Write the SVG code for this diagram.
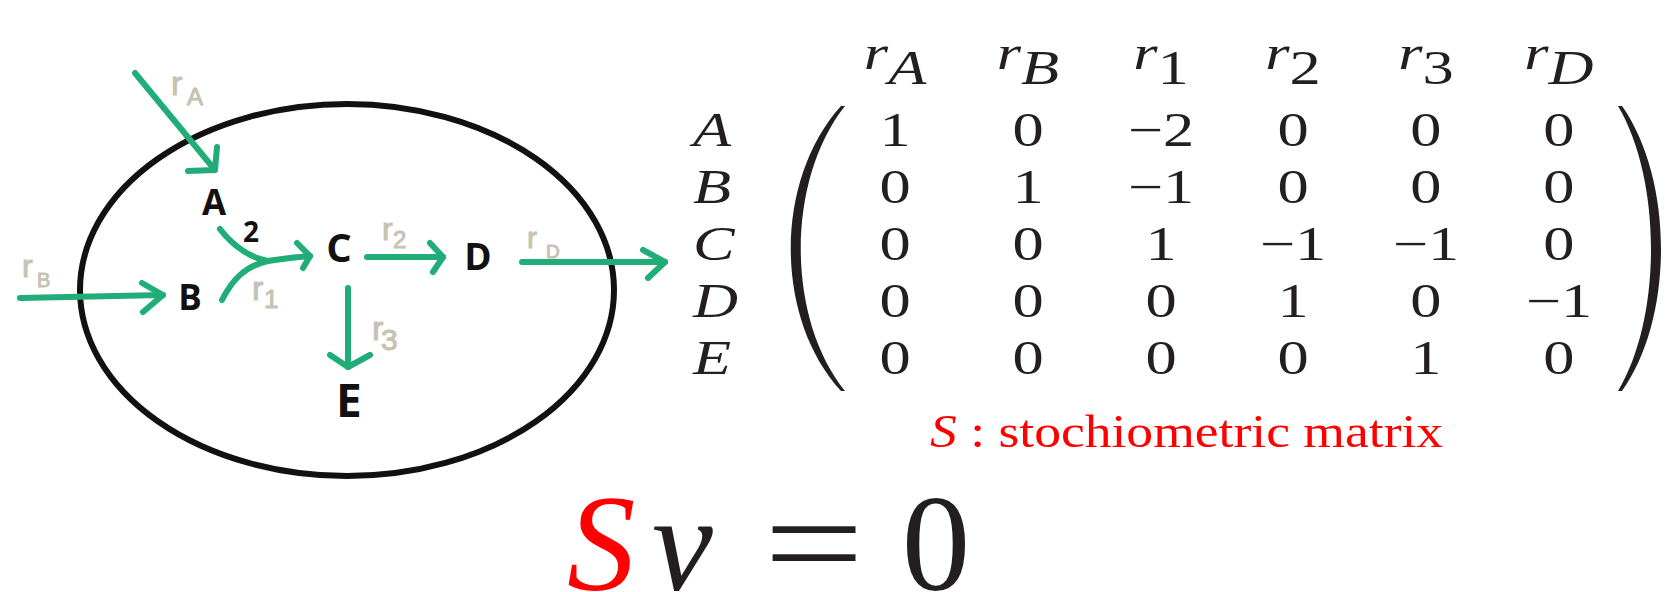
<svg xmlns="http://www.w3.org/2000/svg" width="1666" height="592" viewBox="0 0 1666 592">
  <style>
    .edge { fill: none; stroke: #20ad78; stroke-width: 6; stroke-linecap: round; stroke-linejoin: round; }
    .node { font-family: "Open Sans", "Liberation Sans", sans-serif; font-weight: 700; fill: #111; text-anchor: middle; }
    .lbl { font-family: "Liberation Sans", "DejaVu Sans", sans-serif; fill: #c7c2b3; stroke: #c7c2b3; stroke-width: 1; }
    .mx { font-family: "Liberation Serif", "DejaVu Serif", serif; font-size: 48px; fill: #231f20; text-anchor: middle; }
    .it { font-style: italic; }
    .rowlab { font-family: "Liberation Serif", "DejaVu Serif", serif; font-size: 48px; font-style: italic; fill: #231f20; }
    .big { font-family: "Liberation Serif", "DejaVu Serif", serif; font-size: 137px; fill: #231f20; }
  </style>

  <!-- cell boundary -->
  <ellipse id="cell" cx="347" cy="290" rx="267" ry="186" fill="none" stroke="#111" stroke-width="6"/>

  <!-- connectors -->
  <g id="connectors">
    <g id="edge-rA">
      <path class="edge" d="M135 73 L215 170"/>
      <path class="edge" d="M217 147 L215 170 L188 171"/>
    </g>
    <g id="edge-rB">
      <path class="edge" d="M20 298 L163 295"/>
      <path class="edge" d="M142 283 L163 295 L143 312"/>
    </g>
    <g id="edge-r1">
      <path class="edge" d="M220 229 C232 245 250 258 268 261"/>
      <path class="edge" d="M222 300 C232 280 245 266 268 261 C285 258 298 257 310 256"/>
      <path class="edge" d="M297 243 L310 256 L303 268"/>
    </g>
    <g id="edge-r2">
      <path class="edge" d="M367 257 L443 257"/>
      <path class="edge" d="M430 243 L443 257 L433 272"/>
    </g>
    <g id="edge-r3">
      <path class="edge" d="M348 288 L348 367"/>
      <path class="edge" d="M330 355 L348 367 L370 355"/>
    </g>
    <g id="edge-rD">
      <path class="edge" d="M522 262 L665 262"/>
      <path class="edge" d="M643 250 L665 262 L648 278"/>
    </g>
  </g>

  <!-- reaction labels -->
  <g id="reaction-labels">
    <text class="lbl" x="171" y="95" font-size="34">r<tspan x="187" y="105" font-size="24">A</tspan></text>
    <text class="lbl" x="22" y="277" font-size="32">r<tspan x="37" y="287" font-size="20">B</tspan></text>
    <text class="lbl" x="252" y="300" font-size="34">r<tspan x="264" y="308" font-size="26">1</tspan></text>
    <text class="lbl" x="382" y="240" font-size="32">r<tspan x="393" y="248" font-size="24">2</tspan></text>
    <text class="lbl" x="372" y="340" font-size="34">r<tspan x="381" y="350" font-size="30">3</tspan></text>
    <text class="lbl" x="527" y="248" font-size="30">r<tspan x="546" y="258" font-size="19">D</tspan></text>
    <text x="251" y="242" font-family="Open Sans, Liberation Sans, sans-serif" font-weight="700" font-size="28" fill="#111" text-anchor="middle">2</text>
  </g>

  <!-- metabolite nodes -->
  <g id="node-A"><text class="node" x="214" y="215" font-size="35">A</text></g>
  <g id="node-B"><text class="node" x="190" y="310" font-size="35">B</text></g>
  <g id="node-C"><text class="node" x="339" y="262" font-size="40">C</text></g>
  <g id="node-D"><text class="node" x="478" y="270" font-size="37">D</text></g>
  <g id="node-E"><text class="node" x="349" y="417" font-size="46">E</text></g>

  <!-- stoichiometric matrix -->
  <g id="matrix">
    <path d="M841 106 C774 180 774 318 841 391 L845 391 C786 318 786 180 845 106 Z" fill="#231f20"/>
    <path d="M1622 106 C1674 180 1674 318 1622 391 L1618 391 C1662 318 1662 180 1618 106 Z" fill="#231f20"/>
    <g transform="scale(1.3,1)">
      <!-- headers -->
      <text class="mx" x="688.5" y="69" font-size="46"><tspan class="it">r</tspan><tspan class="it" dy="15">A</tspan></text>
      <text class="mx" x="790.8" y="69" font-size="46"><tspan class="it">r</tspan><tspan class="it" dy="15">B</tspan></text>
      <text class="mx" x="893.1" y="69" font-size="46"><tspan class="it">r</tspan><tspan dy="15">1</tspan></text>
      <text class="mx" x="994.6" y="69" font-size="46"><tspan class="it">r</tspan><tspan dy="15">2</tspan></text>
      <text class="mx" x="1096.9" y="69" font-size="46"><tspan class="it">r</tspan><tspan dy="15">3</tspan></text>
      <text class="mx" x="1199.2" y="69" font-size="46"><tspan class="it">r</tspan><tspan class="it" dy="15">D</tspan></text>
      <!-- row labels -->
      <text class="rowlab" x="533" y="146">A</text>
      <text class="rowlab" x="533" y="203">B</text>
      <text class="rowlab" x="533" y="260">C</text>
      <text class="rowlab" x="533" y="317">D</text>
      <text class="rowlab" x="533" y="374">E</text>
      <!-- row A -->
      <text class="mx" x="688.5" y="146">1</text>
      <text class="mx" x="790.8" y="146">0</text>
      <text class="mx" x="893.1" y="146">−2</text>
      <text class="mx" x="994.6" y="146">0</text>
      <text class="mx" x="1096.9" y="146">0</text>
      <text class="mx" x="1199.2" y="146">0</text>
      <!-- row B -->
      <text class="mx" x="688.5" y="203">0</text>
      <text class="mx" x="790.8" y="203">1</text>
      <text class="mx" x="893.1" y="203">−1</text>
      <text class="mx" x="994.6" y="203">0</text>
      <text class="mx" x="1096.9" y="203">0</text>
      <text class="mx" x="1199.2" y="203">0</text>
      <!-- row C -->
      <text class="mx" x="688.5" y="260">0</text>
      <text class="mx" x="790.8" y="260">0</text>
      <text class="mx" x="893.1" y="260">1</text>
      <text class="mx" x="994.6" y="260">−1</text>
      <text class="mx" x="1096.9" y="260">−1</text>
      <text class="mx" x="1199.2" y="260">0</text>
      <!-- row D -->
      <text class="mx" x="688.5" y="317">0</text>
      <text class="mx" x="790.8" y="317">0</text>
      <text class="mx" x="893.1" y="317">0</text>
      <text class="mx" x="994.6" y="317">1</text>
      <text class="mx" x="1096.9" y="317">0</text>
      <text class="mx" x="1199.2" y="317">−1</text>
      <!-- row E -->
      <text class="mx" x="688.5" y="374">0</text>
      <text class="mx" x="790.8" y="374">0</text>
      <text class="mx" x="893.1" y="374">0</text>
      <text class="mx" x="994.6" y="374">0</text>
      <text class="mx" x="1096.9" y="374">1</text>
      <text class="mx" x="1199.2" y="374">0</text>
    </g>
    <text transform="translate(930,447) scale(1.14,1)" font-family="Liberation Serif, DejaVu Serif, serif" font-size="47" fill="#ff0000"><tspan font-style="italic">S</tspan> : stochiometric matrix</text>
  </g>

  <!-- flux balance equation -->
  <g id="equation">
    <text class="big" y="590"><tspan x="567" fill="#ff0000" font-style="italic">S</tspan><tspan x="652" font-style="italic">ν</tspan></text>
    <text class="big" transform="translate(814,590) scale(1.3,1)" text-anchor="middle">=</text>
    <text class="big" x="936" y="590" text-anchor="middle">0</text>
  </g>
</svg>
